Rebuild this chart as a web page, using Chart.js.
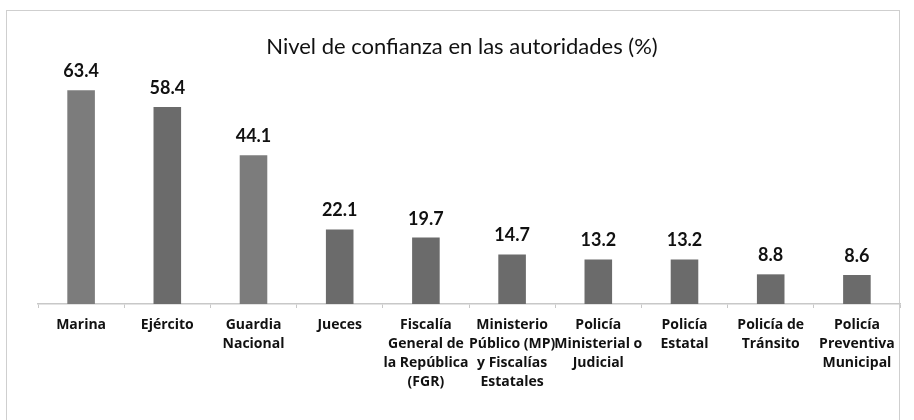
<!DOCTYPE html>
<html><head><meta charset="utf-8">
<script src="https://cdn.jsdelivr.net/npm/chart.js@4"></script>
<style>
html,body{margin:0;padding:0;background:#fff;}
#wrap{position:relative;width:914px;height:420px;}
#frame{position:absolute;left:6px;top:10px;width:894px;height:420px;border:1.5px solid #cfcfcf;box-sizing:border-box;}
canvas{position:absolute;left:0;top:0;}
</style></head>
<body><div id="wrap"><div id="frame"></div><canvas id="c" width="914" height="420"></canvas></div>
<script>
const categories = [
  ["Marina"],
  ["Ejército"],
  ["Guardia","Nacional"],
  ["Jueces"],
  ["Fiscalía","General de","la República","(FGR)"],
  ["Ministerio","Público (MP)","y Fiscalías","Estatales"],
  ["Policía","Ministerial o","Judicial"],
  ["Policía","Estatal"],
  ["Policía de","Tránsito"],
  ["Policía","Preventiva","Municipal"]
];
const confianza = [63.4, 58.4, 44.1, 22.1, 19.7, 14.7, 13.2, 13.2, 8.8, 8.6];
const titleText = "Nivel de confianza en las autoridades (%)";

const barColors = confianza.map((v,i)=> (i===0||i===2) ? '#7c7c7c' : '#6b6b6b');

const overlay = {
  id:'overlay',
  afterDatasetsDraw(chart){
    const ctx = chart.ctx;
    const meta = chart.getDatasetMeta(0);
    ctx.save();
    ctx.font = 'bold 18px Lato';
    ctx.fillStyle = '#111';
    ctx.textAlign = 'center';
    ctx.textBaseline = 'alphabetic';
    meta.data.forEach((bar,i)=>{
      ctx.fillText(confianza[i].toFixed(1), bar.x, bar.y - 13);
    });
    ctx.font = '22px Lato';
    ctx.textBaseline = 'middle';
    ctx.fillText(titleText, 462, 47);
    ctx.restore();
  }
};

new Chart(document.getElementById('c'), {
  type:'bar',
  data:{labels:categories, datasets:[{data:confianza, backgroundColor:barColors, barPercentage:0.32, categoryPercentage:1}]},
  options:{
    responsive:false, animation:false,
    layout:{padding:{left:38, right:14, top:68, bottom:0}},
    plugins:{ legend:{display:false}, tooltip:{enabled:false}, title:{display:false} },
    scales:{
      x:{
        grid:{display:true, drawOnChartArea:false, offset:true, tickLength:4, color:'#c8c8c8'},
        border:{display:true, color:'#c8c8c8', width:1.5},
        ticks:{color:'#111', font:{family:'Open Sans', size:14, weight:'bold', lineHeight:1.36}, maxRotation:0, autoSkip:false, padding:7},
        afterFit(s){ s.height = 116; }
      },
      y:{display:false, min:0, max:70}
    }
  },
  plugins:[overlay]
});
</script></body></html>
